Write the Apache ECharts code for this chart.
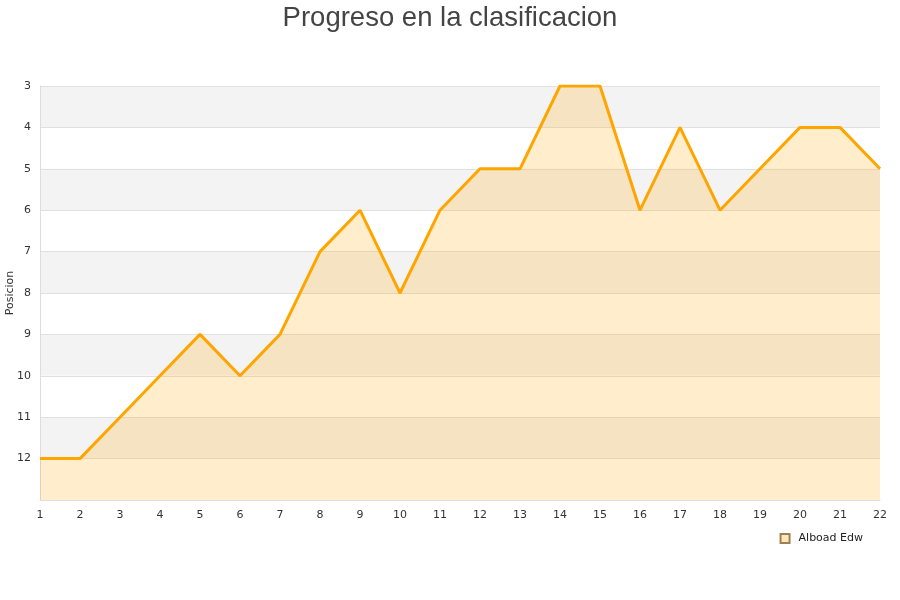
<!DOCTYPE html>
<html>
<head>
<meta charset="utf-8">
<script src="https://cdn.jsdelivr.net/npm/echarts@6/dist/echarts.min.js"></script>
<style>html,body{margin:0;padding:0;background:#fff}#c{width:900px;height:600px}</style>
</head>
<body>
<div id="c"></div>
<script>
var jornadas = ['1','2','3','4','5','6','7','8','9','10','11','12','13','14','15','16','17','18','19','20','21','22'];
var posiciones = [12,12,11,10,9,10,9,7,6,8,6,5,5,3,3,6,4,6,5,4,4,5];
var seriesName = 'Alboad Edw';
var chartTitle = 'Progreso en la clasificacion';
var yName = 'Posicion';

var chart = echarts.init(document.getElementById('c'));
chart.setOption({
  animation: false,
  title: {
    text: chartTitle, left: 'center', top: -1,
    textStyle: {fontFamily: 'Liberation Sans, Arial, sans-serif', fontSize: 27.5, fontWeight: 'normal', color: '#444'}
  },
  legend: {
    data: [{name: seriesName, icon: 'rect'}],
    right: 32, top: 528, itemWidth: 9, itemHeight: 9,
    textStyle: {fontFamily: 'DejaVu Sans, sans-serif', fontSize: 11, color: '#222', padding: [0, 0, 0, 4]}
  },
  grid: {left: 40, right: 20, top: 86, bottom: 100, containLabel: false, outerBoundsMode: 'none'},
  xAxis: {
    type: 'category', data: jornadas, boundaryGap: false,
    axisLine: {lineStyle: {color: '#ddd'}},
    axisTick: {show: false},
    axisLabel: {color: '#333', fontFamily: 'DejaVu Sans, sans-serif', fontSize: 11, margin: 10, interval: 0},
    splitLine: {show: false}
  },
  yAxis: {
    type: 'value', inverse: true, min: 3, max: 13, interval: 1,
    name: yName, nameLocation: 'middle', nameGap: 24, nameRotate: 90, nameMoveOverlap: false,
    nameTextStyle: {color: '#333', fontFamily: 'DejaVu Sans, sans-serif', fontSize: 11},
    axisLine: {show: true, lineStyle: {color: '#ddd'}},
    axisTick: {show: false},
    axisLabel: {color: '#333', fontFamily: 'DejaVu Sans, sans-serif', fontSize: 11, margin: 9,
      formatter: function (v) { return v === 13 ? '' : String(v); }},
    splitLine: {show: true, lineStyle: {color: '#e0e0e0'}},
    splitArea: {show: true, areaStyle: {color: ['#f3f3f3', '#ffffff']}}
  },
  series: [{
    name: seriesName, type: 'line', data: posiciones,
    symbol: 'none', lineStyle: {color: '#FFA500', width: 3},
    itemStyle: {color: '#FFE8C0', borderColor: '#a08050', borderWidth: 1},
    areaStyle: {color: '#FFA500', opacity: 0.2, origin: 'end'}
  }]
});
</script>
</body>
</html>
